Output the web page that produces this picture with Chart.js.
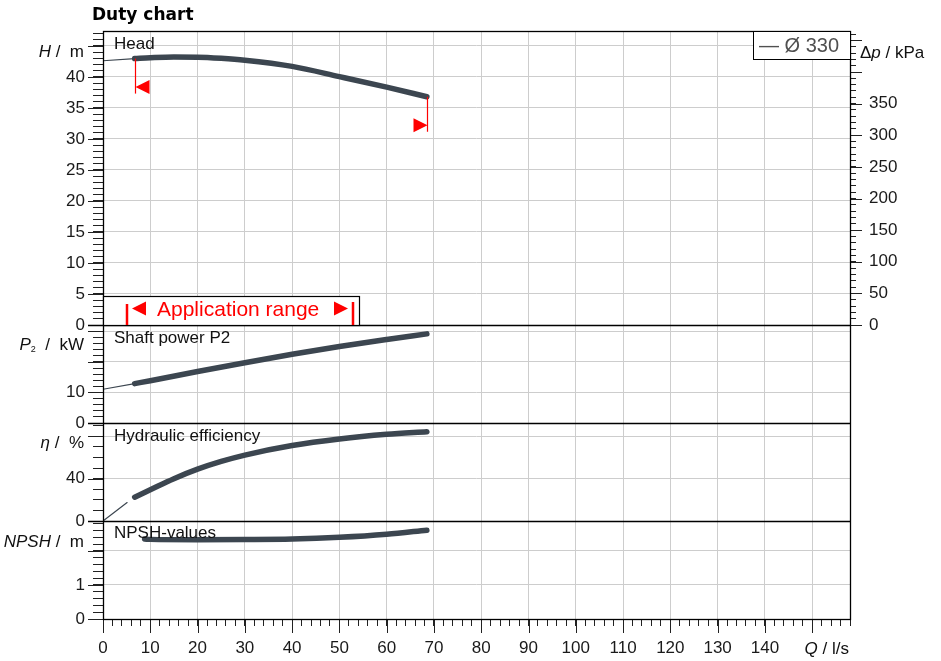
<!DOCTYPE html>
<html><head><meta charset="utf-8">
<script src="https://cdn.jsdelivr.net/npm/chart.js@4.4.1/dist/chart.umd.min.js"></script>
<style>html,body{margin:0;padding:0;background:#fff;}</style>
</head><body>
<canvas id="c" width="941" height="661"></canvas>
<script>
// ---- data ----
const headQ = [6.7, 10, 15, 20, 25, 30, 40, 50, 60, 68.5];
const headH = [42.95, 43.08, 43.2, 43.18, 43.0, 42.7, 41.7, 40.05, 38.35, 36.8];
const headExtQ = [0, 6.7];
const headExtH = [42.6, 42.95];
const powerQ = [6.7, 10, 20, 30, 40, 50, 60, 68.5];
const powerP = [12.9, 13.85, 16.85, 19.75, 22.5, 25.05, 27.35, 29.2];
const powerExtQ = [0, 6.7];
const powerExtP = [11.05, 12.9];
const etaQ = [6.7, 10, 15, 20, 25, 30, 40, 50, 60, 68.5];
const etaE = [22.5, 29.5, 40.0, 49.0, 56.3, 62.3, 71.3, 77.5, 81.9, 84.4];
const etaExtQ = [0, 5.1];
const etaExtE = [0, 17.4];
const npshQ = [8.8, 10, 20, 30, 40, 50, 60, 68.5];
const npshN = [2.35, 2.34, 2.33, 2.335, 2.35, 2.40, 2.49, 2.61];

// ---- axis ranges, tick labels, grid values ----
const qMax = 158, hMax = 47.4, pMax = 32.1, etaMax = 92.6, npshMax = 2.88;
const kpaPerM = 9.80665;
const xLabels = [0, 10, 20, 30, 40, 50, 60, 70, 80, 90, 100, 110, 120, 130, 140];
const xGrid = [10, 20, 30, 40, 50, 60, 70, 80, 90, 100, 110, 120, 130, 140, 150];
const hLabels = [0, 5, 10, 15, 20, 25, 30, 35, 40];
const hGrid = [5, 10, 15, 20, 25, 30, 35, 40, 45];
const kpaLabels = [0, 50, 100, 150, 200, 250, 300, 350];
const pLabels = [0, 10];
const pGrid = [10, 20, 30];
const etaLabels = [0, 40];
const etaGrid = [40, 80];
const npshLabels = [0, 1];
const npshGrid = [1, 2];
const curveName = 'Ø 330';

// ---- helpers ----
const has = (arr, v) => arr.some(a => Math.abs(a - v) < 1e-6);
function steps(max, step) { const o = []; for (let i = 0; i * step <= max + 1e-9; i++) o.push(+(i * step).toFixed(6)); return o; }
const pts = (xs, ys) => xs.map((x, i) => ({x, y: ys[i]}));
const FONT = "'Liberation Sans', Arial, sans-serif";
const LINE = '#3c4650';
const GRID = '#cdcdcd';

function leftScale(max, step, labels, grid, weight, stackWeight) {
  return {
    type: 'linear', position: 'left', stack: 'L', stackWeight, weight, min: 0, max,
    afterBuildTicks: s => { s.ticks = steps(max, step).map(v => ({value: v})); },
    afterFit: s => { s.width = 103; },
    ticks: { autoSkip: false, padding: 8, color: '#1a1a1a', font: {family: FONT, size: 17},
      callback: v => has(labels, v) ? String(v) : '' },
    grid: { color: c => (c.tick && has(grid, c.tick.value)) ? GRID : 'rgba(0,0,0,0)',
      tickColor: '#222', tickLength: 10, lineWidth: 1 },
    border: { display: false }
  };
}
function dummyRight(weight) {
  return { type: 'linear', position: 'right', stack: 'R', stackWeight: 1, weight, min: 0, max: 1,
    afterFit: s => { s.width = 91; },
    ticks: { display: false }, grid: { display: false, drawTicks: false }, border: { display: false } };
}
function ds(data, axis, width) {
  return { data, yAxisID: axis, showLine: true, borderColor: LINE, borderWidth: width,
    pointRadius: 0, borderCapStyle: 'round', borderJoinStyle: 'round', cubicInterpolationMode: 'monotone', fill: false };
}

function segText(ctx, segs, x, y, align) {
  let w = 0;
  segs.forEach(sg => { ctx.font = sg.f; w += ctx.measureText(sg.t).width; });
  let cx = align === 'right' ? x - w : x;
  segs.forEach(sg => { ctx.font = sg.f; ctx.fillText(sg.t, cx, y + (sg.dy || 0)); cx += ctx.measureText(sg.t).width; });
}

const deco = {
  id: 'deco',
  beforeDraw(chart) {
    const {ctx, width, height} = chart;
    ctx.save(); ctx.fillStyle = '#fff'; ctx.fillRect(0, 0, width, height); ctx.restore();
  },
  afterDatasetsDraw(chart) {
    const {ctx, scales: s} = chart;
    ctx.save();
    ctx.strokeStyle = '#ff0000'; ctx.fillStyle = '#ff0000'; ctx.lineWidth = 1.2;
    const ends = [{q: headQ[0], h: headH[0], dir: 1}, {q: headQ[headQ.length - 1], h: headH[headH.length - 1], dir: -1}];
    ends.forEach(e => {
      const x = Math.round(s.x.getPixelForValue(e.q)) + 0.5, y = s.yH.getPixelForValue(e.h);
      ctx.beginPath(); ctx.moveTo(x, y); ctx.lineTo(x, y + 35); ctx.stroke();
      const ty = y + 28.5;
      ctx.beginPath(); ctx.moveTo(x, ty); ctx.lineTo(x + 14 * e.dir, ty - 7); ctx.lineTo(x + 14 * e.dir, ty + 7); ctx.closePath(); ctx.fill();
    });
    ctx.restore();
  },
  afterDraw(chart) {
    const {ctx, chartArea: a, scales: s} = chart;
    ctx.save();
    // major tick extensions
    ctx.strokeStyle = '#222'; ctx.lineWidth = 1;
    const majL = [[s.yH, steps(45, 5)], [s.yP, [0, 10, 20, 30]], [s.yE, [0, 40, 80]], [s.yN, [0, 1, 2]]];
    majL.forEach(([sc, vals]) => vals.forEach(v => {
      const y = Math.round(sc.getPixelForValue(v)) + 0.5;
      ctx.beginPath(); ctx.moveTo(a.left - 15, y); ctx.lineTo(a.left, y); ctx.stroke();
    }));
    steps(450, 50).forEach(v => {
      const y = Math.round(s.yK.getPixelForValue(v)) + 0.5;
      ctx.beginPath(); ctx.moveTo(a.right, y); ctx.lineTo(a.right + 12, y); ctx.stroke();
    });
    steps(150, 10).forEach(v => {
      const x = Math.round(s.x.getPixelForValue(v)) + 0.5;
      ctx.beginPath(); ctx.moveTo(x, a.bottom); ctx.lineTo(x, a.bottom + 14); ctx.stroke();
    });
    // frame and panel separators
    ctx.strokeStyle = '#000'; ctx.lineWidth = 1.3;
    ctx.strokeRect(Math.round(a.left) + 0.5, Math.round(a.top) + 0.5, Math.round(a.right - a.left), Math.round(a.bottom - a.top));
    [s.yP.top, s.yE.top, s.yN.top].forEach(yy => {
      const y = Math.round(yy) + 0.5;
      ctx.beginPath(); ctx.moveTo(a.left - 15, y); ctx.lineTo(a.right, y); ctx.stroke();
    });
    // title
    ctx.fillStyle = '#000'; ctx.textBaseline = 'alphabetic'; ctx.textAlign = 'left';
    ctx.font = "bold 17px 'DejaVu Sans', Verdana, sans-serif";
    ctx.fillText('Duty chart', 92, 20);
    // panel names
    ctx.fillStyle = '#111'; ctx.font = '17px ' + FONT;
    ctx.fillText('Head', a.left + 11, s.yH.top + 18);
    ctx.fillText('Shaft power P2', a.left + 11, s.yP.top + 18);
    ctx.fillText('Hydraulic efficiency', a.left + 11, s.yE.top + 18);
    ctx.fillText('NPSH-values', a.left + 11, s.yN.top + 17);
    // axis titles
    const it = 'italic 17px ' + FONT, nf = '17px ' + FONT;
    const lx = 84;
    segText(ctx, [{t: 'H', f: it}, {t: ' /  m', f: nf}], lx, s.yH.top + 25.5, 'right');
    segText(ctx, [{t: 'P', f: it}, {t: '2', f: '9px ' + FONT, dy: 2}, {t: '  /  kW', f: nf}], lx, s.yP.top + 25, 'right');
    segText(ctx, [{t: 'η', f: it}, {t: ' /  %', f: nf}], lx, s.yE.top + 25, 'right');
    segText(ctx, [{t: 'NPSH', f: it}, {t: ' /  m', f: nf}], lx, s.yN.top + 26, 'right');
    segText(ctx, [{t: 'Δ', f: nf}, {t: 'p', f: it}, {t: ' / kPa', f: nf}], a.right + 10, s.yH.top + 27, 'left');
    segText(ctx, [{t: 'Q', f: it}, {t: ' / l/s', f: nf}], a.right - 1, a.bottom + 35, 'right');
    // legend box
    const bw = 97, bh = 28;
    ctx.fillStyle = '#fff'; ctx.fillRect(a.right - bw, a.top, bw, bh);
    ctx.strokeStyle = '#000'; ctx.lineWidth = 1;
    ctx.strokeRect(Math.round(a.right - bw) + 0.5, Math.round(a.top) + 0.5, bw, bh);
    ctx.fillStyle = '#505050'; ctx.font = '20px ' + FONT; ctx.textBaseline = 'middle';
    ctx.fillText('— ' + curveName, a.right - bw + 6, a.top + bh / 2 + 1);
    // application range box
    const by = s.yH.bottom - 29, bx = a.left, bW = 256;
    ctx.fillStyle = '#fff'; ctx.fillRect(bx, by, bW, 29);
    ctx.strokeStyle = '#000'; ctx.lineWidth = 1.2;
    ctx.strokeRect(Math.round(bx) + 0.5, Math.round(by) + 0.5, bW, 29);
    ctx.fillStyle = '#ff0000'; ctx.strokeStyle = '#ff0000'; ctx.lineWidth = 2.5;
    ctx.beginPath(); ctx.moveTo(bx + 24, by + 8); ctx.lineTo(bx + 24, by + 29); ctx.stroke();
    ctx.beginPath(); ctx.moveTo(bx + 250, by + 6); ctx.lineTo(bx + 250, by + 29); ctx.stroke();
    const tcy = by + 12.5;
    ctx.beginPath(); ctx.moveTo(bx + 29, tcy); ctx.lineTo(bx + 43, tcy - 7); ctx.lineTo(bx + 43, tcy + 7); ctx.closePath(); ctx.fill();
    ctx.beginPath(); ctx.moveTo(bx + 245, tcy); ctx.lineTo(bx + 231, tcy - 7); ctx.lineTo(bx + 231, tcy + 7); ctx.closePath(); ctx.fill();
    ctx.font = '21px ' + FONT; ctx.textBaseline = 'alphabetic';
    ctx.fillText('Application range', bx + 54, by + 19.5);
    ctx.restore();
  }
};

new Chart(document.getElementById('c'), {
  type: 'scatter',
  data: { datasets: [
    ds(pts(headExtQ, headExtH), 'yH', 1.2),
    ds(pts(headQ, headH), 'yH', 5.5),
    ds(pts(powerExtQ, powerExtP), 'yP', 1.2),
    ds(pts(powerQ, powerP), 'yP', 5.5),
    ds(pts(etaExtQ, etaExtE), 'yE', 1.2),
    ds(pts(etaQ, etaE), 'yE', 5.5),
    ds(pts(npshQ, npshN), 'yN', 5.5)
  ]},
  options: {
    responsive: false, animation: false, devicePixelRatio: 1,
    layout: { padding: { top: 31, left: 0, right: 0, bottom: 0 } },
    plugins: { legend: { display: false }, tooltip: { enabled: false }, title: { display: false } },
    scales: {
      x: { type: 'linear', position: 'bottom', min: 0, max: qMax,
        afterBuildTicks: s => { s.ticks = steps(qMax, 2).map(v => ({value: v})); },
        afterFit: s => { s.height = 42; },
        ticks: { autoSkip: false, maxRotation: 0, padding: 12, color: '#1a1a1a', font: {family: FONT, size: 17},
          callback: v => has(xLabels, v) ? String(v) : '' },
        grid: { color: c => (c.tick && has(xGrid, c.tick.value)) ? GRID : 'rgba(0,0,0,0)', tickColor: '#222', tickLength: 7, lineWidth: 1 },
        border: { display: false } },
      yH: leftScale(hMax, 1, hLabels, hGrid, 4, 3),
      yP: leftScale(pMax, 2, pLabels, pGrid, 3, 1),
      yE: leftScale(etaMax, 10, etaLabels, etaGrid, 2, 1),
      yN: leftScale(npshMax, 0.2, npshLabels, npshGrid, 1, 1),
      yK: { type: 'linear', position: 'right', stack: 'R', stackWeight: 3, weight: 1, min: 0, max: hMax * kpaPerM,
        afterBuildTicks: s => { s.ticks = steps(hMax * kpaPerM, 10).map(v => ({value: v})); },
        afterFit: s => { s.width = 91; },
        ticks: { autoSkip: false, padding: 13, color: '#1a1a1a', font: {family: FONT, size: 17},
          callback: v => has(kpaLabels, v) ? String(v) : '' },
        grid: { drawOnChartArea: false, tickColor: '#222', tickLength: 6 },
        border: { display: false } },
      r1: dummyRight(2), r2: dummyRight(3), r3: dummyRight(4)
    }
  },
  plugins: [deco]
});
</script>
</body></html>
